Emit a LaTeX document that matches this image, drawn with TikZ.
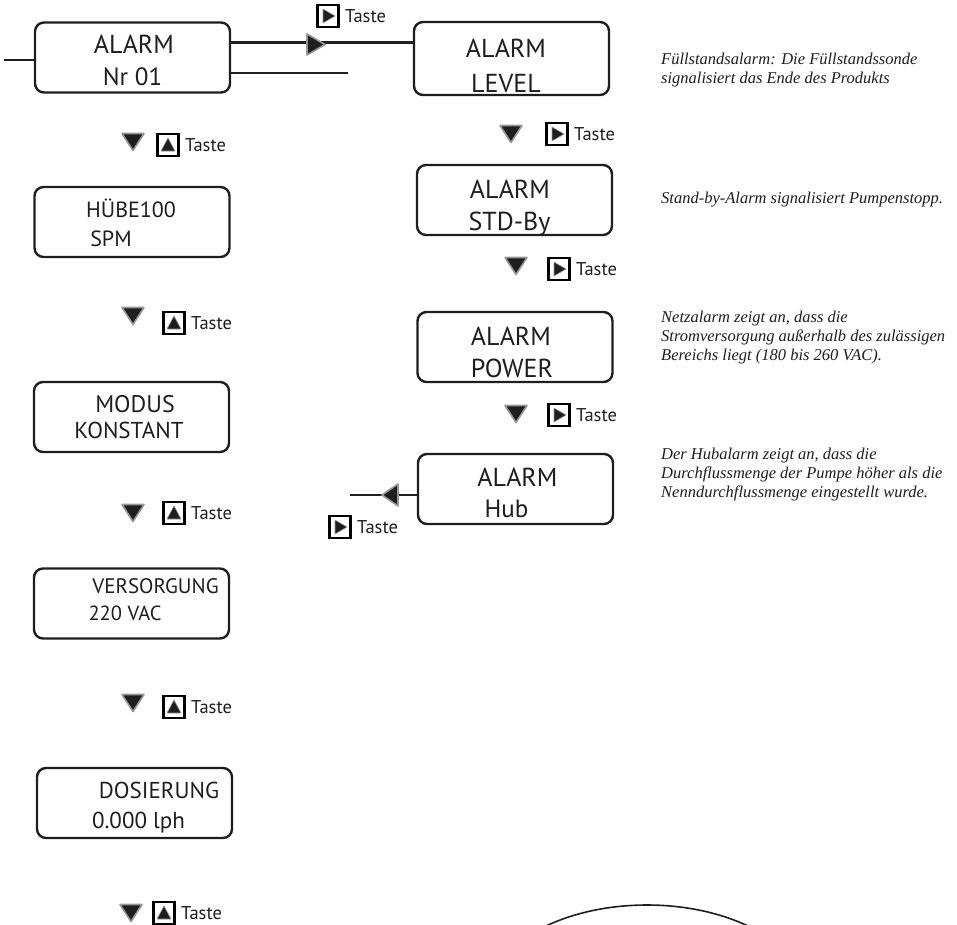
\documentclass[tikz,border=0pt]{standalone}
\usepackage{fontspec}
\setmainfont{PT Sans}
\newfontfamily\notefamily{Liberation Serif}
\usepackage{tikz}
\definecolor{ink}{RGB}{30,30,30}
\definecolor{haze}{RGB}{150,150,150}

\tikzset{
	lcd/.style={draw=ink,line width=2.4pt,rounded corners=9pt,minimum width=195pt,minimum height=70pt,inner sep=0pt},
	lcdtext/.style={font=\fontsize{#1}{30}\selectfont,text=ink,anchor=base,inner sep=0pt},
	lcdtext/.default=26,
	note/.style={font=\notefamily\itshape\fontsize{16.5}{18.7}\selectfont,text=ink,align=left,anchor=base west,inner sep=0pt},
	tastetext/.style={font=\fontsize{18.5}{20}\selectfont,text=ink,anchor=base west,inner sep=0pt},
	keybox/.style={draw=black,line width=2.4pt,fill=white,minimum width=21pt,minimum height=22pt,inner sep=0pt},
	tri/.style={fill=ink,draw=haze,line width=1.6pt,line join=round},
	wire/.style={draw=ink,line width=2.6pt}
}

\begin{document}
\begin{tikzpicture}[x=1pt,y=-1pt]
	\useasboundingbox (0,0) rectangle (957,924);

	% displays, left column
	\node[lcd] (nr01) at (132.5,57.5) {};
	\node[lcd] (hube) at (132,222) {};
	\node[lcd] (modus) at (131.5,417) {};
	\node[lcd] (supply) at (131.5,603.5) {};
	\node[lcd] (dose) at (134.5,803) {};
	% displays, right column
	\node[lcd,minimum height=73pt] (level) at (511.5,58.5) {};
	\node[lcd] (stdby) at (514.5,200) {};
	\node[lcd] (power) at (515,347) {};
	\node[lcd] (hub) at (515.5,489) {};

	\node[lcdtext] (nr01a) at (134,53) {ALARM};
	\node[lcdtext=25] (nr01b) at (132.5,85) {Nr 01};
	\node[lcdtext=22] (hubea) at (131,217) {HÜBE100};
	\node[lcdtext=22] (hubeb) at (111,246) {SPM};
	\node[lcdtext=24] (modusa) at (135,412) {MODUS};
	\node[lcdtext=23] (modusb) at (129,438) {KONSTANT};
	\node[lcdtext=21] (supplya) at (155.5,593) {VERSORGUNG};
	\node[lcdtext=20.5] (supplyb) at (125,620) {220 VAC};
	\node[lcdtext=23] (dosea) at (159,798) {DOSIERUNG};
	\node[lcdtext=23] (doseb) at (138.5,828) {0.000 lph};
	\node[lcdtext] (levela) at (506,57) {ALARM};
	\node[lcdtext] (levelb) at (506,92) {LEVEL};
	\node[lcdtext] (stdbya) at (510,198) {ALARM};
	\node[lcdtext] (stdbyb) at (509.5,230) {STD-By};
	\node[lcdtext] (powera) at (511,345) {ALARM};
	\node[lcdtext] (powerb) at (512,377) {POWER};
	\node[lcdtext] (huba) at (517.5,486) {ALARM};
	\node[lcdtext=25] (hubb) at (506.5,517) {Hub};

	% connectors
	\coordinate (feed) at (4,60);
	\coordinate (loose) at (348,73);
	\coordinate (back) at (350,495);
	\draw[wire] (feed) -- (feed -| nr01.west);
	\draw[wire] ([yshift=15pt]nr01.east) -- ([yshift=15pt]nr01.east -| level.west);
	\draw[wire] ([yshift=-15.5pt]nr01.east) -- (loose);
	\draw[wire] (back) -- (back -| hub.west);
	\filldraw[tri] (307,34) -- (325,44.5) -- (307,55) -- cycle;
	\filldraw[tri] (398,484) -- (382,495) -- (398,506) -- cycle;

	% arrows down
	\foreach \x/\y in {133/142,133/316,133/513,133/703,131/913,511/134,516/266,516/414}
		\filldraw[tri] (\x,\y) ++(-11,-8.5) -- ++(22,0) -- ++(-11,17) -- cycle;

	% up keys
	\foreach \n/\x/\y in {kup1/168/145,kup2/174/323,kup3/174/513,kup4/174/707,kup5/164/913}{
		\node[keybox] (\n) at (\x,\y) {};
		\filldraw[tri,line width=0.6pt] (\n.center) ++(-7,6) -- ++(14,0) -- ++(-7,-13) -- cycle;
		\node[tastetext] (\n-t) at (\x+17,\y+6) {Taste};
	}
	% right keys
	\foreach \n/\x/\y in {ktop/328/16,klevel/557/134,kstd/559/269,kpower/559/415,khub/340/527}{
		\node[keybox] (\n) at (\x,\y) {};
		\filldraw[tri,line width=0.6pt] (\n.center) ++(-5,-7) -- ++(12,7) -- ++(-12,7) -- cycle;
		\node[tastetext] (\n-t) at (\x+17,\y+6) {Taste};
	}

	% notes (anchored at the baseline of the last line)
	\node[note] (levelnote) at (661,83) {Füllstandsalarm: Die Füllstandssonde\\signalisiert das Ende des Produkts};
	\node[note] (stdbynote) at (661,203) {Stand-by-Alarm signalisiert Pumpenstopp.};
	\node[note] (powernote) at (661,360) {Netzalarm zeigt an, dass die\\Stromversorgung außerhalb des zulässigen\\Bereichs liegt (180 bis 260 VAC).};
	\node[note] (hubnote) at (661,497) {Der Hubalarm zeigt an, dass die\\Durchflussmenge der Pumpe höher als die\\Nenndurchflussmenge eingestellt wurde.};

	% outline at the bottom
	\begin{scope}
		\clip (0,0) rectangle (957,924);
		\draw[draw=ink,line width=1.6pt] (647,1000) ellipse [x radius=161,y radius=95];
	\end{scope}
\end{tikzpicture}
\end{document}
